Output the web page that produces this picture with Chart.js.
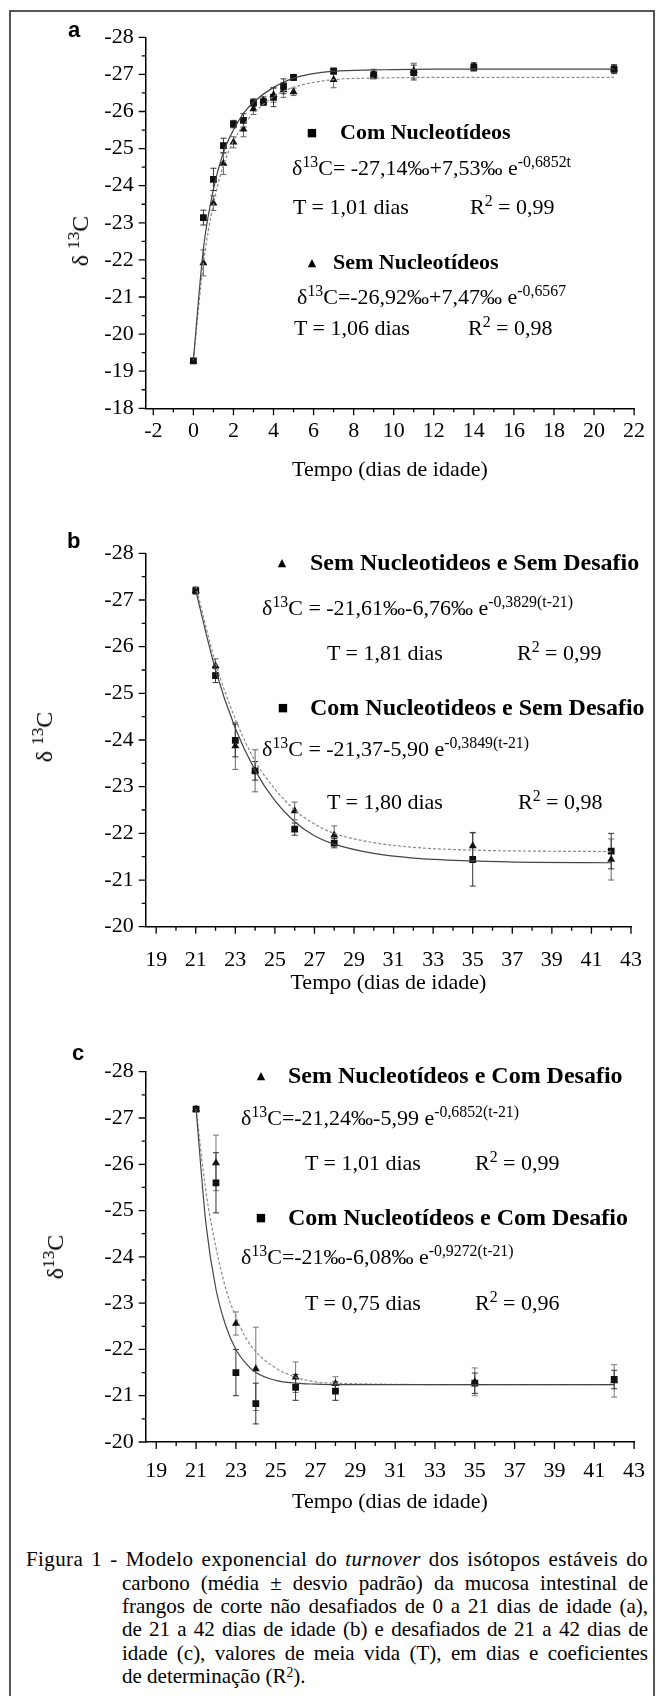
<!DOCTYPE html>
<html><head><meta charset="utf-8">
<script src="https://cdn.jsdelivr.net/npm/chart.js@4/dist/chart.umd.min.js"></script>
<style>
html,body{margin:0;padding:0;background:#fff;}
body{width:662px;height:1696px;position:relative;overflow:hidden;font-family:"Liberation Serif","Times New Roman",serif;color:#000;}
#frame{position:absolute;left:9px;top:10px;width:642px;height:1720px;border:2px solid #555;border-bottom:none;}
canvas{position:absolute;left:0;}
.t{position:absolute;white-space:nowrap;line-height:1;font-size:22px;}
.t sup{font-size:0.72em;position:relative;top:-0.5em;vertical-align:baseline;line-height:0;}
.b{font-weight:bold;}
.mk{position:absolute;line-height:1;font-family:"DejaVu Sans",sans-serif;font-size:11px;transform:translate(-50%,-50%);}
.lbl{position:absolute;font-family:"Liberation Sans",Arial,sans-serif;font-weight:bold;font-size:22px;line-height:1;}
.yt{position:absolute;white-space:nowrap;font-size:24px;line-height:1;transform:translate(-50%,-50%) rotate(-90deg);}
.yt sup{font-size:0.72em;position:relative;top:-0.5em;vertical-align:baseline;line-height:0;}
.cap{position:absolute;font-size:21px;line-height:23.3px;text-align:justify;text-align-last:justify;}
.cap sup{font-size:0.65em;position:relative;top:-0.45em;vertical-align:baseline;line-height:0;}
</style></head>
<body>
<div id="frame"></div>
<canvas id="ca"></canvas>
<canvas id="cb"></canvas>
<canvas id="cc"></canvas>

<div class="lbl" style="left:68px;top:19px;">a</div>
<div class="lbl" style="left:67px;top:530px;">b</div>
<div class="lbl" style="left:72px;top:1042px;">c</div>

<div class="yt" style="left:80px;top:241px;">δ <sup>13</sup>C</div>
<div class="yt" style="left:44px;top:737px;">δ <sup>13</sup>C</div>
<div class="yt" style="left:55px;top:1257px;">δ<sup>13</sup>C</div>

<!-- panel a annotations -->
<div class="mk" style="left:312px;top:132px;">■</div>
<div class="t b" style="left:340px;top:121px;">Com Nucleotídeos</div>
<div class="t" style="left:292px;top:157px;">δ<sup>13</sup>C= -27,14‰+7,53‰ e<sup>-0,6852t</sup></div>
<div class="t" style="left:293px;top:196px;">T = 1,01 dias</div>
<div class="t" style="left:470px;top:196px;">R<sup>2</sup> = 0,99</div>
<div class="mk" style="left:312px;top:262px;">▲</div>
<div class="t b" style="left:333px;top:251px;">Sem Nucleotídeos</div>
<div class="t" style="left:297px;top:286px;">δ<sup>13</sup>C=-26,92‰+7,47‰ e<sup>-0,6567</sup></div>
<div class="t" style="left:294px;top:317px;">T = 1,06 dias</div>
<div class="t" style="left:468px;top:317px;">R<sup>2</sup> = 0,98</div>

<!-- panel b annotations -->
<div class="mk" style="left:282px;top:562px;">▲</div>
<div class="t b" style="left:310px;top:550px;font-size:24px;">Sem Nucleotideos e Sem Desafio</div>
<div class="t" style="left:262px;top:597px;">δ<sup>13</sup>C = -21,61‰-6,76‰ e<sup>-0,3829(t-21)</sup></div>
<div class="t" style="left:327px;top:642px;">T = 1,81 dias</div>
<div class="t" style="left:517px;top:642px;">R<sup>2</sup> = 0,99</div>
<div class="mk" style="left:283px;top:707px;">■</div>
<div class="t b" style="left:310px;top:695px;font-size:24px;">Com Nucleotideos e Sem Desafio</div>
<div class="t" style="left:262px;top:738px;">δ<sup>13</sup>C = -21,37-5,90 e<sup>-0,3849(t-21)</sup></div>
<div class="t" style="left:327px;top:791px;">T = 1,80 dias</div>
<div class="t" style="left:518px;top:791px;">R<sup>2</sup> = 0,98</div>

<!-- panel c annotations -->
<div class="mk" style="left:261px;top:1075px;">▲</div>
<div class="t b" style="left:288px;top:1063px;font-size:24px;">Sem Nucleotídeos e Com Desafio</div>
<div class="t" style="left:241px;top:1107px;">δ<sup>13</sup>C=-21,24‰-5,99 e<sup>-0,6852(t-21)</sup></div>
<div class="t" style="left:305px;top:1152px;">T = 1,01 dias</div>
<div class="t" style="left:475px;top:1152px;">R<sup>2</sup> = 0,99</div>
<div class="mk" style="left:261px;top:1217px;">■</div>
<div class="t b" style="left:288px;top:1205px;font-size:24px;">Com Nucleotídeos e Com Desafio</div>
<div class="t" style="left:241px;top:1246px;">δ<sup>13</sup>C=-21‰-6,08‰ e<sup>-0,9272(t-21)</sup></div>
<div class="t" style="left:305px;top:1292px;">T = 0,75 dias</div>
<div class="t" style="left:475px;top:1292px;">R<sup>2</sup> = 0,96</div>

<!-- caption -->
<div class="cap" style="left:26px;top:1548px;width:622px;letter-spacing:0.4px;">Figura 1 - Modelo exponencial do <i>turnover</i> dos isótopos estáveis do</div>
<div class="cap" style="left:122px;top:1572px;width:526px;">carbono (média ± desvio padrão) da mucosa intestinal de</div>
<div class="cap" style="left:122px;top:1595px;width:526px;">frangos de corte não desafiados de 0 a 21 dias de idade (a),</div>
<div class="cap" style="left:122px;top:1618px;width:526px;">de 21 a 42 dias de idade (b) e desafiados de 21 a 42 dias de</div>
<div class="cap" style="left:122px;top:1642px;width:526px;">idade (c), valores de meia vida (T), em dias e coeficientes</div>
<div class="cap" style="left:122px;top:1665px;width:526px;text-align:left;text-align-last:left;">de determinação (R<sup>2</sup>).</div>

<script>
// ---------- Panel a: 0 to 21 days ----------
const aDays   = [0, 0.5, 1, 1.5, 2, 2.5, 3, 3.5, 4, 4.5, 5, 7, 9, 11, 14, 21];
const aCom    = [-19.28, -23.14, -24.17, -25.08, -25.66, -25.76, -26.24, -26.26, -26.38, -26.68, -26.92, -27.09, -26.98, -27.05, -27.19, -27.14];
const aComSD  = [0.05, 0.2, 0.3, 0.2, 0.1, 0.18, 0.1, 0.1, 0.25, 0.2, 0.08, 0.08, 0.1, 0.2, 0.1, 0.12];
const aSem    = [-19.28, -21.92, -23.53, -24.6, -25.17, -25.52, -26.07, -26.3, -26.45, -26.58, -26.53, -26.86, -27.02, -27.1, -27.22, -27.15];
const aSemSD  = [0.05, 0.35, 0.2, 0.3, 0.15, 0.2, 0.15, 0.1, 0.2, 0.2, 0.1, 0.22, 0.12, 0.2, 0.1, 0.1];
const aFitDays = [0, 0.5, 1, 1.5, 2, 2.5, 3, 4, 5, 7, 9, 12, 16, 21];
const aFitCom  = [-19.3, -22.3, -23.9, -24.9, -25.5, -25.95, -26.25, -26.65, -26.9, -27.09, -27.12, -27.14, -27.14, -27.14];
const aFitSem  = [-19.3, -21.9, -23.5, -24.55, -25.2, -25.62, -25.95, -26.4, -26.65, -26.86, -26.9, -26.92, -26.92, -26.92];
const aXTicks = [-2, 0, 2, 4, 6, 8, 10, 12, 14, 16, 18, 20, 22];
const aYTicks = [-28, -27, -26, -25, -24, -23, -22, -21, -20, -19, -18];

// ---------- Panel b: 21 to 42 days, not challenged ----------
const bDays   = [21, 22, 23, 24, 26, 28, 35, 42];
const bSem    = [-27.2, -25.59, -23.87, -23.34, -22.48, -21.96, -21.73, -21.44];
const bSemSD  = [0.08, 0.15, 0.5, 0.45, 0.19, 0.2, 0.29, 0.44];
const bCom    = [-27.2, -25.38, -23.99, -23.34, -22.09, -21.79, -21.44, -21.62];
const bComSD  = [0.05, 0.15, 0.35, 0.2, 0.13, 0.1, 0.57, 0.38];
const bFitDays = [21, 22, 23, 24, 25, 26, 27, 28, 30, 32, 35, 38, 42];
const bFitSem  = [-27.3, -25.65, -24.45, -23.55, -22.95, -22.5, -22.2, -22.0, -21.8, -21.7, -21.64, -21.62, -21.61];
const bFitCom  = [-27.2, -25.5, -24.25, -23.35, -22.7, -22.25, -21.95, -21.77, -21.57, -21.47, -21.41, -21.38, -21.37];

// ---------- Panel c: 21 to 42 days, challenged ----------
const cDays   = [21, 22, 23, 24, 26, 28, 35, 42];
const cSem    = [-27.19, -26.03, -22.56, -21.58, -21.4, -21.26, -21.3, -21.32];
const cSemSD  = [0.05, 0.6, 0.25, 0.9, 0.33, 0.15, 0.3, 0.35];
const cCom    = [-27.19, -25.6, -21.5, -20.83, -21.18, -21.1, -21.27, -21.35];
const cComSD  = [0.05, 0.65, 0.5, 0.44, 0.28, 0.2, 0.22, 0.2];
const cFitDays = [21, 21.5, 22, 22.5, 23, 23.5, 24, 25, 26, 27, 28, 35, 42];
const cFitCom  = [-27.2, -24.7, -23.3, -22.5, -22.0, -21.7, -21.5, -21.33, -21.27, -21.25, -21.24, -21.24, -21.24];
const cFitSem  = [-27.2, -25.4, -24.2, -23.3, -22.7, -22.25, -21.95, -21.6, -21.4, -21.3, -21.27, -21.24, -21.24];

const bcXTicks = [19, 21, 23, 25, 27, 29, 31, 33, 35, 37, 39, 41, 43];
const bcYTicks = [-28, -27, -26, -25, -24, -23, -22, -21, -20];

const SERIF = '"Liberation Serif", "Times New Roman", serif';

function pts(xs, ys) { return xs.map((x, i) => ({x: x, y: ys[i]})); }

function makePanel(cfg) {
  const cv = document.getElementById(cfg.id);
  cv.width = 662; cv.height = cfg.height;
  cv.style.top = cfg.top + 'px';
  cv.style.width = '662px'; cv.style.height = cfg.height + 'px';

  const deco = {
    id: 'deco_' + cfg.id,
    beforeDatasetsDraw(chart) {
      const ctx = chart.ctx, xs = chart.scales.x, ys = chart.scales.y;
      ctx.save();
      ctx.lineWidth = 1;
      cfg.bars.forEach(b => {
        ctx.strokeStyle = b.color;
        b.x.forEach((xv, i) => {
          const px = xs.getPixelForValue(xv);
          const p1 = ys.getPixelForValue(b.y[i] - b.sd[i]);
          const p2 = ys.getPixelForValue(b.y[i] + b.sd[i]);
          ctx.beginPath();
          ctx.moveTo(px, p1); ctx.lineTo(px, p2);
          ctx.moveTo(px - 3, p1); ctx.lineTo(px + 3, p1);
          ctx.moveTo(px - 3, p2); ctx.lineTo(px + 3, p2);
          ctx.stroke();
        });
      });
      ctx.restore();
    },
    afterDraw(chart) {
      const ctx = chart.ctx, xs = chart.scales.x, ys = chart.scales.y, a = chart.chartArea;
      ctx.save();
      ctx.strokeStyle = '#000';
      ctx.lineWidth = 1.3;
      ctx.beginPath();
      for (let v = Math.ceil(xs.min); v <= xs.max + 1e-9; v += 1) {
        const px = xs.getPixelForValue(v);
        const major = cfg.xTicks.indexOf(v) >= 0;
        ctx.moveTo(px, a.bottom); ctx.lineTo(px, a.bottom + (major ? 7 : 4));
      }
      for (let v = ys.min; v <= ys.max + 1e-9; v += 0.5) {
        const py = ys.getPixelForValue(v);
        const major = Math.abs(v - Math.round(v)) < 1e-9;
        ctx.moveTo(a.left, py); ctx.lineTo(a.left - (major ? 7 : 4), py);
      }
      ctx.stroke();
      ctx.restore();
    }
  };

  const tickFont = {family: SERIF, size: 22};
  return new Chart(cv, {
    type: 'scatter',
    data: {
      datasets: [
        {data: pts(cfg.fitX, cfg.fitCom), showLine: true, borderColor: '#444', borderWidth: 1.2, pointRadius: 0, cubicInterpolationMode: 'monotone', fill: false},
        {data: pts(cfg.fitX, cfg.fitSem), showLine: true, borderColor: '#8a8a8a', borderWidth: 1.2, borderDash: [3, 2], pointRadius: 0, cubicInterpolationMode: 'monotone', fill: false},
        {data: pts(cfg.days, cfg.sem), pointStyle: 'triangle', pointRadius: 4.6, backgroundColor: '#111', borderColor: '#111', borderWidth: 0},
        {data: pts(cfg.days, cfg.com), pointStyle: 'rect', pointRadius: 4.8, backgroundColor: '#111', borderColor: '#111', borderWidth: 0}
      ]
    },
    options: {
      responsive: false, animation: false, devicePixelRatio: 1,
      layout: {padding: {left: 0, top: cfg.area.top, right: 662 - cfg.area.right, bottom: 0}},
      plugins: {legend: {display: false}, tooltip: {enabled: false}},
      scales: {
        x: {
          type: 'linear', min: cfg.xMin, max: cfg.xMax,
          afterBuildTicks: s => { s.ticks = cfg.xTicks.map(v => ({value: v})); },
          afterFit: s => { s.height = cfg.height - cfg.area.bottom; },
          grid: {display: false, drawTicks: false},
          border: {display: true, color: '#000', width: 1.5},
          ticks: {font: tickFont, color: '#000', padding: cfg.xTickPad, maxRotation: 0, autoSkip: false, callback: v => String(v)},
          title: {display: true, text: 'Tempo (dias de idade)', font: tickFont, color: '#000', padding: {top: 0, bottom: cfg.titlePad}}
        },
        y: {
          type: 'linear', reverse: true, min: cfg.yMin, max: cfg.yMax,
          afterBuildTicks: s => { s.ticks = cfg.yTicks.map(v => ({value: v})); },
          afterFit: s => { s.width = cfg.area.left; },
          grid: {display: false, drawTicks: false},
          border: {display: true, color: '#000', width: 1.5},
          ticks: {font: tickFont, color: '#000', padding: 12, autoSkip: false, callback: v => String(v)}
        }
      }
    },
    plugins: [deco]
  });
}

makePanel({
  id: 'ca', top: 0, height: 495,
  area: {left: 145.7, right: 634.1, top: 37.3, bottom: 408.3},
  xMin: -2.38, xMax: 22, yMin: -28, yMax: -18,
  xTicks: aXTicks, yTicks: aYTicks, xTickPad: 10, titlePad: 12,
  days: aDays, com: aCom, sem: aSem,
  fitX: aFitDays, fitCom: aFitCom, fitSem: aFitSem,
  bars: [{x: aDays, y: aSem, sd: aSemSD, color: '#666'}, {x: aDays, y: aCom, sd: aComSD, color: '#333'}]
});

makePanel({
  id: 'cb', top: 520, height: 480,
  area: {left: 145.7, right: 634.1, top: 33.3, bottom: 406.7},
  xMin: 18.47, xMax: 43, yMin: -28, yMax: -20,
  xTicks: bcXTicks, yTicks: bcYTicks, xTickPad: 20, titlePad: 4,
  days: bDays, com: bCom, sem: bSem,
  fitX: bFitDays, fitCom: bFitCom, fitSem: bFitSem,
  bars: [{x: bDays, y: bSem, sd: bSemSD, color: '#666'}, {x: bDays, y: bCom, sd: bComSD, color: '#333'}]
});

makePanel({
  id: 'cc', top: 1040, height: 480,
  area: {left: 145.7, right: 634.1, top: 31.7, bottom: 402},
  xMin: 18.47, xMax: 43, yMin: -28, yMax: -20,
  xTicks: bcXTicks, yTicks: bcYTicks, xTickPad: 16.5, titlePad: 5,
  days: cDays, com: cCom, sem: cSem,
  fitX: cFitDays, fitCom: cFitCom, fitSem: cFitSem,
  bars: [{x: cDays, y: cSem, sd: cSemSD, color: '#777'}, {x: cDays, y: cCom, sd: cComSD, color: '#333'}]
});
</script>
</body></html>
